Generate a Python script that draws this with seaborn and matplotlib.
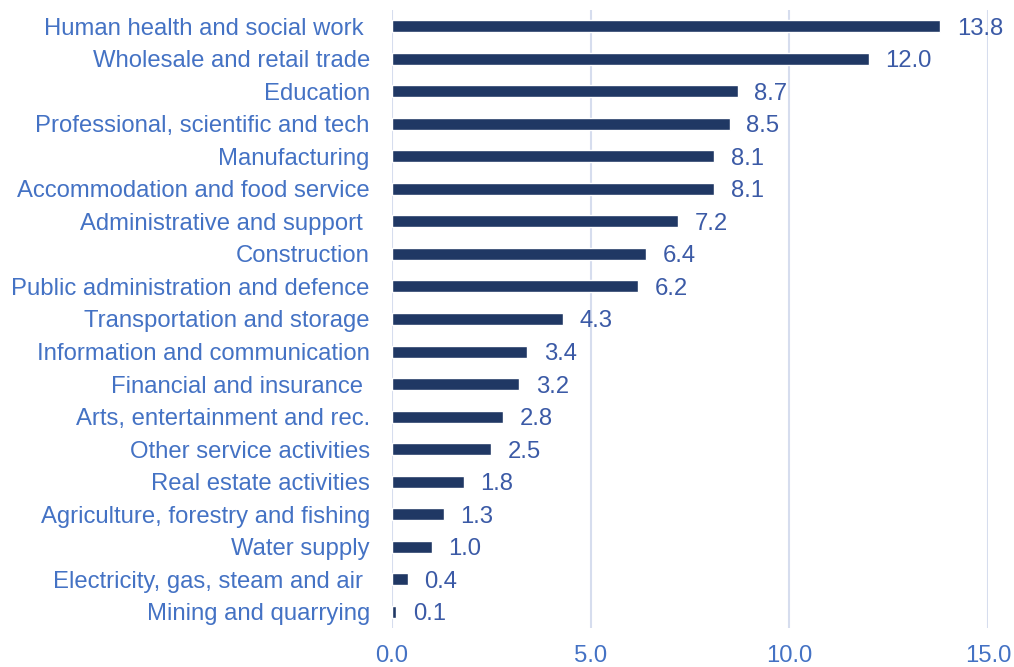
import matplotlib
matplotlib.use("Agg")
import matplotlib.pyplot as plt
import seaborn as sns
import pandas as pd

# Share of employment by industry (%)
industries = [
    "Human health and social work ",
    "Wholesale and retail trade",
    "Education",
    "Professional, scientific and tech",
    "Manufacturing",
    "Accommodation and food service",
    "Administrative and support ",
    "Construction",
    "Public administration and defence",
    "Transportation and storage",
    "Information and communication",
    "Financial and insurance ",
    "Arts, entertainment and rec.",
    "Other service activities",
    "Real estate activities",
    "Agriculture, forestry and fishing",
    "Water supply",
    "Electricity, gas, steam and air ",
    "Mining and quarrying",
]
shares = [13.8, 12.0, 8.7, 8.5, 8.1, 8.1, 7.2, 6.4, 6.2, 4.3, 3.4, 3.2, 2.8, 2.5,
          1.8, 1.3, 1.0, 0.4, 0.1]
x_ticks = [0.0, 5.0, 10.0, 15.0]

df = pd.DataFrame({"industry": industries, "share": shares})

sns.set_style("white")
plt.rcParams["font.family"] = ["Liberation Sans", "DejaVu Sans"]

label_color = "#4472C4"
value_color = "#3B5AA6"
bar_color = "#203864"
grid_color = "#D6DDEE"

fig = plt.figure(figsize=(10.14, 6.67), dpi=100)
ax = fig.add_axes([0.3866, 0.0585, 0.5878, 0.9265])

sns.barplot(data=df, x="share", y="industry", orient="h", color=bar_color,
            width=0.37, saturation=1, ax=ax)

ax.set_xlim(0, 15)
ax.set_ylim(len(industries) - 0.5, -0.5)
ax.set_xticks(x_ticks)
ax.set_xticklabels([f"{t:.1f}" for t in x_ticks])
ax.set_xlabel("")
ax.set_ylabel("")

for v in x_ticks:
    ax.axvline(v, color=grid_color, lw=1.5, zorder=0)

for s in ax.spines.values():
    s.set_visible(False)

ax.tick_params(axis="both", length=0, labelsize=17.2)
ax.tick_params(axis="y", pad=16, labelcolor=label_color)
ax.tick_params(axis="x", pad=12, labelcolor=label_color)

for i, v in enumerate(shares):
    ax.annotate(f"{v:.1f}", xy=(v, i), xytext=(12, 0), textcoords="offset points",
                ha="left", va="center_baseline", fontsize=17.2, color=value_color)

fig.savefig("out.png", dpi=100)
